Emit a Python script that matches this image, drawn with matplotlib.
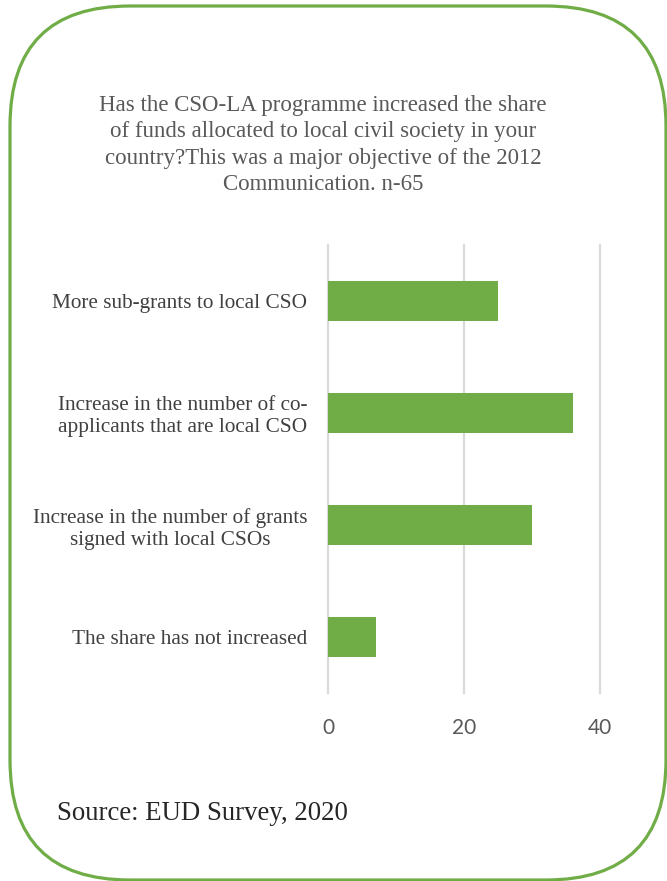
import matplotlib.pyplot as plt
from matplotlib.patches import FancyBboxPatch

categories = [
    "More sub-grants to local CSO",
    "Increase in the number of co-\napplicants that are local CSO",
    "Increase in the number of grants\nsigned with local CSOs",
    "The share has not increased",
]
values = [25, 36, 30, 7]
ticks = [0, 20, 40]

title = ("Has the CSO-LA programme increased the share\n"
         "of funds allocated to local civil society in your\n"
         "country?This was a major objective of the 2012\n"
         "Communication. n-65")
source = "Source: EUD Survey, 2020"

green = "#70AD47"
serif = ["Liberation Serif", "DejaVu Serif"]

fig = plt.figure(figsize=(6.67, 8.81), dpi=100)

# rounded green frame, in inches so the corners stay circular
r = 1.2
frame = FancyBboxPatch((0.10 + r, 0.01 + r), 6.56 - 2 * r, 8.74 - 2 * r,
                       boxstyle=f"round,pad={r}", transform=fig.dpi_scale_trans,
                       facecolor="none", edgecolor=green, linewidth=2.3)
fig.add_artist(frame)

ax = fig.add_axes([328 / 667, 1 - 693 / 881, 272 / 667, 448 / 881])
y = list(range(len(categories)))
ax.barh(y, values, height=0.35, color=green)
ax.set_ylim(3.5, -0.5)
ax.set_xlim(0, 40)
ax.set_xticks(ticks)
ax.set_yticks(y)
ax.set_yticklabels(categories, fontsize=15.3, family=serif, color="#404040",
                   multialignment="center", linespacing=1.2)
ax.tick_params(axis="y", length=0, pad=15)
ax.tick_params(axis="x", length=0, pad=18, labelsize=15, colors="#595959")
for lab in ax.get_xticklabels():
    lab.set_family(["Lato", "DejaVu Sans"])
ax.grid(axis="x", color="#d9d9d9", linewidth=1.6)
for gl in ax.get_xgridlines():
    gl.set_clip_on(False)
ax.set_axisbelow(True)
for s in ax.spines.values():
    s.set_visible(False)

fig.text(323 / 667, 1 - 145 / 881, title, ha="center", va="center",
         fontsize=16.5, family=serif, color="#595959", linespacing=1.35)
fig.text(57 / 667, 1 - 813 / 881, source, ha="left", va="center",
         fontsize=19.3, family=serif, color="#262626")

fig.savefig("out.png", dpi=100)
